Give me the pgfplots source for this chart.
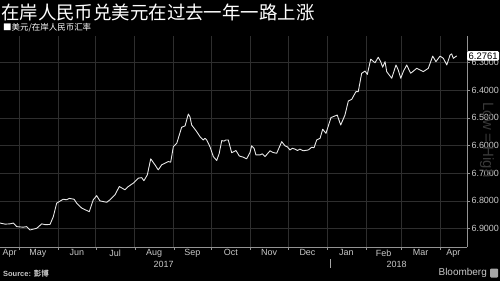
\documentclass[border=0pt]{standalone}
\usepackage{fontspec}
\setmainfont{Liberation Sans}
\newfontfamily\cjk{Noto Sans CJK SC}
\usepackage{pgfplots}
\pgfplotsset{compat=1.18}
\definecolor{gridc}{HTML}{2E2E2E}
\definecolor{labc}{HTML}{C8C8C8}
\definecolor{linec}{HTML}{E8E8E8}
\begin{document}
\begin{tikzpicture}[x=1bp,y=1bp]
\fill[black] (0,0) rectangle (500,281);
\useasboundingbox (0,0) rectangle (500,281);
\begin{axis}[
  at={(0bp,34bp)}, anchor=south west,
  scale only axis, width=467bp, height=211bp,
  xmin=-15.1, xmax=356.4,
  ymin=6.2043, ymax=6.9666, y dir=reverse,
  axis x line*=bottom, axis y line*=right,
  axis line style={-, draw=gray!85},
  grid=major, major grid style={draw=gridc, line width=0.6pt},
  tick align=outside, major tick length=3bp,
  tick style={draw=gray!85},
  xtick={0,31,61,92,123,153,184,214,245,276,304,335},
  xticklabels={},
  extra x ticks={-7.5,15,46,76.5,107.5,138,168.5,199,229.5,260.5,290,319.5,345.5},
  extra x tick labels={Apr,May,Jun,Jul,Aug,Sep,Oct,Nov,Dec,Jan,Feb,Mar,Apr},
  extra x tick style={grid=none, major tick length=0pt},
  x tick label style={font=\fontsize{9}{9}\selectfont, text=labc, yshift=1bp},
  ytick={6.3,6.4,6.5,6.6,6.7,6.8,6.9},
  yticklabel style={/pgf/number format/fixed, /pgf/number format/precision=4, /pgf/number format/fixed zerofill},
  /pgf/number format/assume math mode=true,
  y tick label style={font=\fontsize{9}{9}\selectfont, text=labc, xshift=-2bp},
  clip=false,
]
\addplot[color=linec, line width=0.9pt, line join=round] coordinates {
(-15.1,6.880) (-11,6.884) (-7.2,6.883) (-4.5,6.880) (-1.8,6.893) (3.4,6.895) (6,6.893)
(8.8,6.905) (14.1,6.899) (18.1,6.883) (21,6.886) (24.7,6.885) (27.3,6.857) (30.0,6.808)
(35.2,6.794) (37.9,6.796) (40,6.791) (43.8,6.794) (45.9,6.808) (49.9,6.826) (55.9,6.839)
(59.1,6.796) (61.8,6.781) (64.4,6.800) (69.8,6.805) (72.4,6.796) (76.4,6.778) (79.8,6.748)
(84.3,6.760) (87.0,6.748) (90.9,6.736) (94.9,6.718) (97.6,6.716) (99.4,6.727) (102.1,6.706)
(104.8,6.648) (108.2,6.670) (110.8,6.688) (113.5,6.670) (116,6.664) (118.8,6.658) (120.7,6.660)
(122.8,6.604) (125.5,6.592) (129.4,6.534) (132.1,6.529) (134.7,6.486) (136.0,6.496) (137.4,6.526)
(141.4,6.550) (144.0,6.568) (146.6,6.580) (148,6.574) (149.3,6.580) (151.9,6.604) (154.6,6.640)
(157.3,6.654) (159.3,6.628) (161.3,6.582) (163.1,6.584) (164.5,6.580) (166.5,6.580) (169.2,6.626)
(172.6,6.618) (175.3,6.638) (178.4,6.642) (181.1,6.648) (183.8,6.625) (185.1,6.601) (187.0,6.610)
(188.5,6.634) (191.7,6.634) (193.5,6.630) (195.7,6.640) (199.7,6.619) (202,6.625) (205.0,6.628)
(209.0,6.586) (211.6,6.601) (213.5,6.605) (215.6,6.616) (217.5,6.610) (219.6,6.613) (221.5,6.618)
(223.5,6.613) (226.2,6.619) (230.2,6.616) (232.9,6.606) (234.7,6.608) (236.8,6.580) (239.5,6.574)
(241.6,6.541) (244.2,6.556) (248.2,6.499) (251.4,6.493) (253.2,6.490) (255.9,6.526) (259.3,6.490)
(262.0,6.439) (264.7,6.433) (268.1,6.405) (269.9,6.405) (272.6,6.339) (275.3,6.331) (277.1,6.343)
(279.8,6.288) (283.2,6.301) (285.8,6.281) (287.7,6.297) (289.3,6.317) (291.2,6.297) (292.5,6.333)
(296.5,6.357) (299.9,6.309) (301.7,6.327) (303.7,6.357) (305.7,6.333) (308.4,6.309) (311.6,6.339)
(316.4,6.321) (319.0,6.327) (321.6,6.333) (325.6,6.321) (329.1,6.277) (331.7,6.297) (334.9,6.277)
(337.6,6.285) (340.3,6.309) (342.9,6.273) (344.2,6.269) (345.5,6.285) (348.2,6.2761)
};
\node[fill=white, text=black, rounded corners=1.5bp, inner sep=1.5bp, anchor=west,
      font=\fontsize{9.5}{9.5}\selectfont] at (axis cs:356.4,6.2761) {6.2761};
\end{axis}
% title and texts
\node[anchor=west, text=white, inner sep=0, font=\cjk\fontsize{18.5}{18.5}\selectfont] at (1,268) {在岸人民币兑美元在过去一年一路上涨};
\node[anchor=west, text=white, inner sep=0, font=\cjk\fontsize{8.5}{8.5}\selectfont] at (3,253) {■美元/在岸人民币汇率};
\node[text=labc, font=\fontsize{9}{9}\selectfont] at (163.6,17) {2017};
\node[text=labc, font=\fontsize{9}{9}\selectfont] at (396.7,17) {2018};
\draw[gray!70] (330,22) -- (330,13);
\node[anchor=west, text=labc, inner sep=0, font=\bfseries\fontsize{7.5}{7.5}\selectfont] at (3,7.5) {Source: {\cjk 彭博}};
\node[anchor=east, text=labc, inner sep=0, font=\fontsize{10}{10}\selectfont] at (487,8) {Bloomberg};
\fill[gray!70, rounded corners=1bp] (490,3.5) rectangle (498,12.5);
\node[rotate=-90, text=gray!45!black, font=\fontsize{15}{15}\selectfont] at (487,141) {Low = High};
\end{tikzpicture}
\end{document}
